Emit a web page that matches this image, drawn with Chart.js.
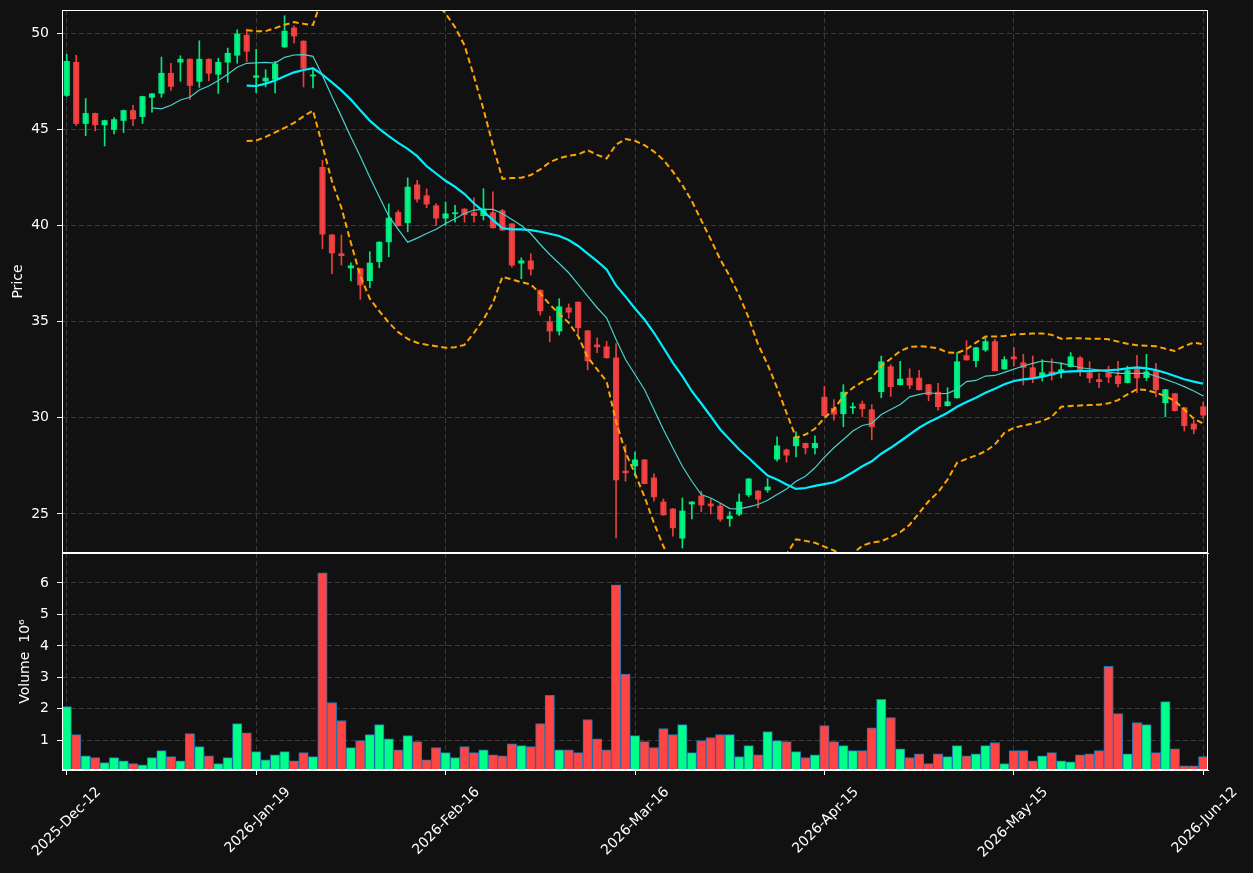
<!DOCTYPE html>
<html>
<head>
<meta charset="utf-8">
<script src="https://cdn.jsdelivr.net/npm/chart.js@4.4.1/dist/chart.umd.min.js"></script>
<style>
  body { margin: 0; background: #111111; }
  #wrap { position: relative; width: 1253px; height: 873px; }
  canvas { position: absolute; left: 0; top: 0; }
</style>
</head>
<body>
<div id="wrap">
  <canvas id="price" width="1253" height="873"></canvas>
  <canvas id="volume" width="1253" height="873"></canvas>
</div>
<script>
// tick labels, one every 20 sessions
var tickLabels = ['2025-Dec-12', '2026-Jan-19', '2026-Feb-16', '2026-Mar-16', '2026-Apr-15', '2026-May-15', '2026-Jun-12'];

var opens = [46.74, 48.50, 45.28, 45.84, 45.21, 44.97, 45.44, 45.99, 45.64, 46.64,
  46.85, 47.93, 48.47, 48.66, 47.47, 48.66, 47.84, 48.47, 48.83, 49.91,
  47.68, 47.49, 47.58, 49.26, 50.29, 49.60, 47.75, 43.04, 39.53, 38.55,
  37.77, 37.77, 37.11, 38.10, 39.13, 40.69, 40.12, 42.13, 41.56, 41.04,
  40.36, 40.59, 40.87, 40.68, 40.49, 40.68, 40.78, 40.10, 38.02, 38.18,
  36.65, 35.01, 34.49, 35.73, 36.03, 34.54, 33.81, 33.71, 33.13, 27.25,
  27.48, 27.83, 26.89, 25.64, 25.28, 23.72, 25.50, 25.95, 25.54, 25.43,
  24.74, 24.97, 25.97, 26.21, 26.23, 27.83, 28.35, 28.52, 28.69, 28.42,
  31.09, 30.52, 30.19, 30.50, 30.73, 30.43, 31.34, 32.67, 31.70, 32.08,
  32.08, 31.74, 31.35, 30.61, 31.02, 33.25, 32.95, 33.51, 33.98, 32.52,
  33.19, 32.88, 32.62, 32.12, 32.41, 32.34, 32.64, 33.13, 32.36, 32.00,
  32.36, 32.20, 31.81, 32.59, 32.07, 32.43, 30.76, 31.27, 30.54, 29.70,
  30.59];
var highs = [48.90, 48.85, 46.60, 45.84, 45.47, 45.61, 46.00, 46.24, 46.72, 46.86,
  48.75, 48.43, 48.82, 48.66, 49.60, 48.66, 48.69, 49.22, 50.17, 50.21,
  49.16, 48.10, 48.53, 50.90, 50.38, 49.60, 48.10, 43.39, 39.53, 39.50,
  38.06, 37.77, 38.63, 39.15, 41.12, 40.78, 42.47, 42.35, 41.90, 41.14,
  41.22, 41.04, 40.87, 41.44, 41.91, 41.75, 40.83, 40.10, 38.32, 38.53,
  36.65, 35.28, 36.19, 35.92, 36.03, 34.54, 34.16, 33.97, 33.86, 28.59,
  28.22, 27.83, 27.08, 25.78, 25.28, 25.83, 25.64, 26.18, 25.78, 25.54,
  25.12, 26.04, 26.84, 26.21, 26.84, 29.01, 28.38, 29.27, 28.69, 29.06,
  31.64, 30.95, 31.72, 30.78, 30.87, 30.68, 33.21, 32.76, 32.93, 32.55,
  32.47, 31.74, 31.79, 31.56, 33.39, 34.01, 33.66, 34.15, 34.08, 33.18,
  33.65, 33.30, 33.21, 33.02, 33.07, 32.86, 33.39, 33.19, 32.92, 32.31,
  32.69, 32.93, 32.69, 33.25, 33.30, 32.83, 31.48, 31.27, 30.54, 29.88,
  30.83];
var lows = [46.70, 45.19, 44.67, 44.91, 44.13, 44.76, 44.83, 45.19, 45.30, 45.89,
  46.66, 47.02, 47.49, 46.55, 47.18, 47.53, 46.86, 47.44, 48.43, 48.52,
  46.90, 47.20, 46.89, 49.26, 49.48, 47.20, 47.15, 38.79, 37.49, 37.94,
  37.11, 36.16, 36.76, 37.80, 38.37, 39.97, 39.67, 41.21, 40.92, 39.99,
  40.00, 40.17, 40.17, 40.17, 40.28, 39.86, 39.74, 37.83, 37.23, 37.42,
  35.34, 33.95, 34.30, 35.18, 34.36, 32.49, 33.38, 33.10, 23.75, 26.70,
  26.96, 26.56, 25.66, 24.93, 23.84, 23.23, 24.74, 25.11, 25.00, 24.62,
  24.36, 24.91, 25.89, 25.31, 26.13, 27.74, 27.69, 27.97, 28.12, 28.12,
  30.08, 29.88, 29.53, 30.21, 30.05, 28.85, 31.04, 31.11, 31.70, 31.51,
  31.44, 30.89, 30.40, 30.61, 31.02, 32.99, 32.64, 33.45, 32.43, 32.52,
  32.69, 31.70, 31.82, 31.91, 31.96, 32.07, 32.64, 32.17, 31.82, 31.56,
  31.82, 31.61, 31.81, 31.30, 31.94, 31.09, 30.05, 30.35, 29.31, 29.17,
  29.97];
var closes = [48.55, 45.28, 45.84, 45.21, 45.47, 45.52, 45.99, 45.52, 46.72, 46.86,
  47.93, 47.21, 48.66, 47.26, 48.66, 47.89, 48.50, 48.97, 49.97, 49.04,
  47.80, 47.68, 48.41, 50.12, 49.83, 48.15, 47.84, 39.53, 38.55, 38.41,
  37.92, 36.89, 38.06, 39.15, 40.40, 39.97, 42.01, 41.35, 41.09, 40.36,
  40.62, 40.68, 40.54, 40.49, 40.87, 39.86, 39.74, 37.92, 38.18, 37.71,
  35.54, 34.49, 35.79, 35.47, 34.66, 32.94, 33.67, 33.10, 26.75, 27.12,
  27.83, 26.56, 25.87, 24.93, 24.26, 25.17, 25.64, 25.45, 25.40, 24.71,
  24.91, 25.64, 26.84, 25.75, 26.42, 28.56, 28.04, 29.01, 28.42, 28.69,
  30.09, 30.17, 31.35, 30.59, 30.45, 29.51, 32.93, 31.60, 32.03, 31.68,
  31.44, 31.18, 30.56, 30.85, 32.93, 32.99, 33.66, 33.98, 32.43, 33.04,
  33.04, 32.60, 32.03, 32.36, 32.20, 32.52, 33.19, 32.45, 32.05, 31.86,
  32.10, 31.75, 32.47, 32.05, 32.41, 31.44, 31.48, 30.35, 29.57, 29.39,
  30.12];

// volume in millions
var volumes = [2.07, 1.18, 0.51, 0.45, 0.29, 0.45, 0.35, 0.26, 0.22, 0.45,
  0.67, 0.48, 0.35, 1.21, 0.80, 0.51, 0.26, 0.45, 1.53, 1.24,
  0.64, 0.38, 0.54, 0.64, 0.35, 0.61, 0.48, 6.32, 2.20, 1.63,
  0.77, 0.99, 1.18, 1.50, 1.05, 0.70, 1.15, 0.96, 0.38, 0.77,
  0.61, 0.45, 0.80, 0.61, 0.70, 0.54, 0.51, 0.89, 0.83, 0.80,
  1.53, 2.43, 0.70, 0.70, 0.61, 1.66, 1.05, 0.70, 5.94, 3.10,
  1.15, 0.96, 0.77, 1.37, 1.18, 1.50, 0.61, 0.99, 1.09, 1.18,
  1.18, 0.48, 0.83, 0.54, 1.28, 0.99, 0.96, 0.64, 0.45, 0.54,
  1.47, 0.96, 0.83, 0.67, 0.67, 1.40, 2.30, 1.72, 0.73, 0.45,
  0.57, 0.26, 0.57, 0.48, 0.83, 0.51, 0.57, 0.83, 0.93, 0.26,
  0.67, 0.67, 0.35, 0.51, 0.61, 0.35, 0.32, 0.54, 0.57, 0.67,
  3.35, 1.85, 0.57, 1.56, 1.50, 0.61, 2.23, 0.73, 0.19, 0.19,
  0.48];

// moving averages and bands
var ma10 = [null, null, null, null, null, null, null, null, null, 46.11,
  46.06, 46.25, 46.52, 46.66, 47.04, 47.25, 47.53, 47.86, 48.22, 48.43,
  48.45, 48.48, 48.44, 48.74, 48.86, 48.88, 48.79, 47.80, 46.70, 45.67,
  44.60, 43.58, 42.51, 41.49, 40.48, 39.79, 39.13, 39.34, 39.58, 39.80,
  40.10, 40.35, 40.62, 40.80, 40.83, 40.83, 40.62, 40.31, 40.00, 39.58,
  39.01, 38.49, 38.02, 37.54, 36.93, 36.32, 35.72, 35.20, 34.07, 33.03,
  32.25, 31.47, 30.43, 29.39, 28.43, 27.48, 26.70, 26.01, 25.83, 25.57,
  25.28, 25.26, 25.37, 25.49, 25.71, 26.01, 26.30, 26.70, 26.96, 27.40,
  27.95, 28.44, 28.87, 29.31, 29.60, 29.70, 30.17, 30.43, 30.69, 31.09,
  31.22, 31.30, 31.25, 31.27, 31.48, 31.88, 31.94, 32.17, 32.20, 32.36,
  32.53, 32.69, 32.83, 32.95, 32.90, 32.83, 32.73, 32.60, 32.55, 32.48,
  32.38, 32.31, 32.31, 32.31, 32.31, 32.17, 32.00, 31.82, 31.62, 31.39,
  31.13];
var ma20 = [null, null, null, null, null, null, null, null, null, null,
  null, null, null, null, null, null, null, null, null, 47.27,
  47.25, 47.37, 47.53, 47.75, 47.96, 48.08, 48.17, 47.84, 47.44, 47.02,
  46.54, 45.99, 45.45, 45.02, 44.64, 44.29, 43.98, 43.60, 43.08, 42.70,
  42.32, 42.01, 41.63, 41.14, 40.73, 40.28, 39.86, 39.80, 39.79, 39.76,
  39.67, 39.57, 39.45, 39.24, 38.93, 38.54, 38.14, 37.71, 36.88, 36.30,
  35.68, 35.11, 34.42, 33.64, 32.86, 32.16, 31.38, 30.74, 30.08, 29.39,
  28.87, 28.35, 27.91, 27.45, 27.00, 26.79, 26.53, 26.30, 26.35, 26.46,
  26.55, 26.65, 26.88, 27.17, 27.48, 27.74, 28.13, 28.44, 28.78, 29.13,
  29.48, 29.77, 30.00, 30.26, 30.57, 30.82, 31.04, 31.30, 31.51, 31.74,
  31.91, 32.00, 32.05, 32.14, 32.26, 32.38, 32.41, 32.43, 32.43, 32.45,
  32.47, 32.50, 32.57, 32.62, 32.57, 32.48, 32.34, 32.17, 32.00, 31.88,
  31.77];
var bandUpper = [null, null, null, null, null, null, null, null, null, null,
  null, null, null, null, null, null, null, null, null, 50.15,
  50.10, 50.10, 50.26, 50.43, 50.57, 50.48, 50.42, 51.90, 53.00, 54.00,
  54.80, 55.30, 55.50, 55.40, 55.00, 54.40, 53.70, 53.00, 52.30, 51.60,
  51.01, 50.31, 49.36, 47.74, 46.04, 44.16, 42.42, 42.46, 42.48, 42.62,
  42.91, 43.29, 43.49, 43.62, 43.69, 43.92, 43.67, 43.48, 44.20, 44.49,
  44.40, 44.17, 43.84, 43.41, 42.80, 42.10, 41.27, 40.26, 39.27, 38.23,
  37.36, 36.36, 35.20, 33.81, 32.77, 31.56, 30.26, 28.96, 29.13, 29.43,
  30.00, 30.43, 31.13, 31.56, 31.86, 32.08, 32.69, 33.07, 33.47, 33.68,
  33.72, 33.68, 33.61, 33.39, 33.37, 33.56, 33.91, 34.22, 34.22, 34.25,
  34.33, 34.36, 34.38, 34.38, 34.31, 34.11, 34.13, 34.13, 34.11, 34.11,
  34.08, 33.96, 33.85, 33.77, 33.75, 33.72, 33.59, 33.47, 33.73, 33.91,
  33.82];
var bandLower = [null, null, null, null, null, null, null, null, null, null,
  null, null, null, null, null, null, null, null, null, 44.39,
  44.41, 44.60, 44.84, 45.07, 45.33, 45.67, 45.97, 44.15, 42.30, 40.92,
  39.10, 37.37, 36.19, 35.55, 34.95, 34.45, 34.10, 33.90, 33.80, 33.72,
  33.64, 33.67, 33.79, 34.42, 35.11, 35.98, 37.33, 37.19, 37.05, 36.93,
  36.46, 35.89, 35.40, 34.94, 34.24, 33.15, 32.52, 31.90, 29.80, 28.20,
  27.10, 25.90, 24.53, 23.32, 22.30, 21.50, 20.90, 20.50, 20.30, 20.30,
  20.50, 20.80, 21.30, 21.80, 22.30, 22.65, 22.90, 23.68, 23.60, 23.50,
  23.30, 23.10, 22.85, 22.95, 23.35, 23.52, 23.58, 23.80, 24.05, 24.44,
  25.05, 25.66, 26.13, 26.79, 27.66, 27.86, 28.04, 28.26, 28.61, 29.22,
  29.48, 29.60, 29.70, 29.83, 30.05, 30.57, 30.61, 30.64, 30.66, 30.68,
  30.75, 30.92, 31.22, 31.48, 31.44, 31.30, 31.13, 30.87, 30.43, 29.95,
  29.70];

var UP = '#00ff88';
var DOWN = '#ff4444';
var GRID = '#3a3a3a';

var labels = [];
for (var i = 0; i < closes.length; i++) labels.push(String(i));

var candleColors = closes.map(function(c, i) {
  return c >= opens[i] ? 'rgba(0,255,136,0.9)' : 'rgba(255,68,68,0.9)';
});
var volumeColors = closes.map(function(c, i) {
  return c >= opens[i] ? UP : DOWN;
});

Chart.defaults.font.family = "'DejaVu Sans', sans-serif";
Chart.defaults.font.size = 14;
Chart.defaults.color = '#ffffff';
Chart.defaults.animation = false;

// white box round each panel
var framePlugin = {
  id: 'frame',
  afterDraw: function(chart) {
    var a = chart.chartArea;
    var ctx = chart.ctx;
    ctx.save();
    ctx.strokeStyle = '#ffffff';
    ctx.lineWidth = 1;
    ctx.strokeRect(Math.round(a.left) + 0.5, Math.round(a.top) + 0.5,
      Math.round(a.right - a.left) - 1, Math.round(a.bottom - a.top) - 1);
    ctx.restore();
  }
};

function keepEvery20(scale) {
  scale.ticks = scale.ticks.filter(function(t) { return t.value % 20 === 0; });
}

function yAxis(min, max, step, title, titlePad) {
  return {
    type: 'linear',
    min: min,
    max: max,
    afterFit: function(s) { s.width = 62; s.paddingTop = 0; s.paddingBottom = 0; },
    ticks: { stepSize: step, includeBounds: false, padding: 8, color: '#ffffff' },
    grid: { color: GRID, tickColor: '#ffffff', tickLength: 5 },
    border: { color: '#ffffff', dash: [5, 3] },
    title: { display: true, text: title, padding: { top: titlePad, bottom: 0 }, font: { size: 14 } }
  };
}

// price panel
new Chart(document.getElementById('price'), {
  type: 'bar',
  data: {
    labels: labels,
    datasets: [
      {
        type: 'line', label: 'ma10', data: ma10, borderColor: '#48d1cc', borderWidth: 1.2,
        pointRadius: 0, tension: 0, order: 0
      },
      {
        type: 'line', label: 'ma20', data: ma20, borderColor: '#00eeff', borderWidth: 2.2,
        pointRadius: 0, tension: 0, order: 0
      },
      {
        type: 'line', label: 'upper', data: bandUpper, borderColor: '#ffa500', borderWidth: 2,
        borderDash: [6, 3.5], pointRadius: 0, tension: 0, order: 0
      },
      {
        type: 'line', label: 'lower', data: bandLower, borderColor: '#ffa500', borderWidth: 2,
        borderDash: [6, 3.5], pointRadius: 0, tension: 0, order: 0
      },
      {
        label: 'body',
        data: opens.map(function(o, i) { return [o, closes[i]]; }),
        backgroundColor: candleColors,
        borderWidth: 0,
        barPercentage: 0.65,
        categoryPercentage: 1,
        minBarLength: 1,
        grouped: false,
        order: 1
      },
      {
        label: 'wick',
        data: lows.map(function(l, i) { return [l, highs[i]]; }),
        backgroundColor: candleColors,
        borderWidth: 0,
        barThickness: 1,
        grouped: false,
        order: 2
      }
    ]
  },
  options: {
    responsive: false,
    events: [],
    layout: { padding: { left: 0, right: 45, top: 10, bottom: 320 } },
    plugins: { legend: { display: false }, tooltip: { enabled: false } },
    scales: {
      x: {
        type: 'category',
        offset: true,
        afterBuildTicks: keepEvery20,
        afterFit: function(s) { s.height = 0; s.paddingLeft = 0; s.paddingRight = 0; },
        ticks: { display: false, autoSkip: false },
        grid: { color: GRID, offset: false, drawTicks: false },
        border: { color: '#ffffff', dash: [5, 3] }
      },
      y: yAxis(22.97, 51.2, 5, 'Price', 10)
    }
  },
  plugins: [framePlugin]
});

// volume panel
new Chart(document.getElementById('volume'), {
  type: 'bar',
  data: {
    labels: labels,
    datasets: [{
      label: 'volume',
      data: volumes,
      backgroundColor: volumeColors,
      borderColor: '#1f77b4',
      borderWidth: 1,
      barPercentage: 1,
      categoryPercentage: 1
    }]
  },
  options: {
    responsive: false,
    events: [],
    layout: { padding: { left: 0, right: 45, top: 553, bottom: 0 } },
    plugins: { legend: { display: false }, tooltip: { enabled: false } },
    scales: {
      x: {
        type: 'category',
        offset: true,
        afterBuildTicks: keepEvery20,
        afterFit: function(s) { s.height = 103; s.paddingLeft = 0; s.paddingRight = 0; },
        ticks: {
          autoSkip: false, minRotation: 45, maxRotation: 45, padding: 9, labelOffset: 32,
          color: '#ffffff',
          callback: function(value) { return tickLabels[value / 20]; }
        },
        grid: { color: GRID, offset: false, tickColor: '#ffffff', tickLength: 5 },
        border: { color: '#ffffff', dash: [5, 3] }
      },
      y: yAxis(0.057, 6.95, 1, 'Volume  10\u2076', 16.6)
    }
  },
  plugins: [framePlugin]
});
</script>
</body>
</html>
